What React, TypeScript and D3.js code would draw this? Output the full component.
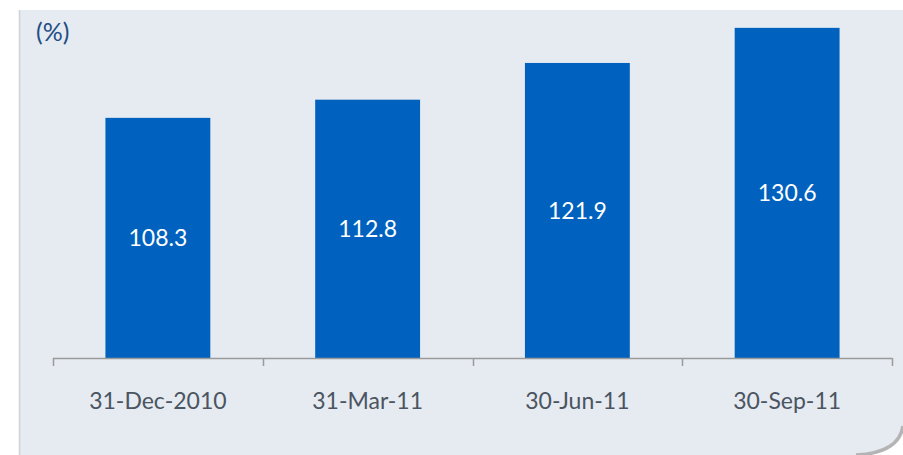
import React, { useEffect, useRef } from 'react';
import * as d3 from 'd3';

const categories = ['31-Dec-2010', '31-Mar-11', '30-Jun-11', '30-Sep-11'];
const values = [108.3, 112.8, 121.9, 130.6];
const unitLabel = '(%)';

export default function App() {
  const svgRef = useRef<SVGSVGElement>(null);

  useEffect(() => {
    if (!svgRef.current) return;
    const height = 455;
    const svg = d3.select(svgRef.current);
    svg.selectAll('*').remove();

    const font = 'Lato, "Open Sans", sans-serif';

    // panel with curled bottom-right corner
    svg.append('path')
      .attr('d', `M19,10 H903 V426 Q899,453 856,455 H19 Z`)
      .attr('fill', '#e6eaf1');
    svg.append('line')
      .attr('x1', 19.5).attr('x2', 19.5).attr('y1', 10).attr('y2', height)
      .attr('stroke', '#cfd2d6').attr('stroke-width', 1.5);
    svg.append('path')
      .attr('d', `M903,426 Q899,453 856,455`)
      .attr('fill', 'none')
      .attr('stroke', '#b4b4b4')
      .attr('stroke-width', 3.5);

    const x = d3.scaleBand<string>()
      .domain(categories)
      .range([53, 892])
      .paddingInner(0.5)
      .paddingOuter(0.25);

    const y = d3.scaleLinear()
      .domain([48.8, 140])
      .range([358, 358 - 91.2 * 4.036]);

    const g = svg.append('g');

    g.selectAll('.bar')
      .data(values)
      .enter().append('rect')
      .attr('class', 'bar')
      .attr('x', (_, i) => x(categories[i])!)
      .attr('width', x.bandwidth())
      .attr('y', d => y(d))
      .attr('height', d => y(48.8) - y(d))
      .attr('fill', '#0062be');

    g.selectAll('.val')
      .data(values)
      .enter().append('text')
      .attr('x', (_, i) => x(categories[i])! + x.bandwidth() / 2)
      .attr('y', d => (y(d) + y(48.8)) / 2)
      .attr('dy', '0.37em')
      .attr('text-anchor', 'middle')
      .style('font-family', font)
      .style('font-size', '23px')
      .style('fill', '#ffffff')
      .text(d => d.toFixed(1));

    // axis
    const step = x.step();
    const tickXs = d3.range(categories.length + 1).map(i => 53 + i * step);
    g.append('line')
      .attr('x1', 53).attr('x2', 892).attr('y1', 358.5).attr('y2', 358.5)
      .attr('stroke', '#9a9a9a').attr('stroke-width', 1.5);
    g.selectAll('.tick')
      .data(tickXs)
      .enter().append('line')
      .attr('x1', d => Math.round(d) + 0.5).attr('x2', d => Math.round(d) + 0.5)
      .attr('y1', 358).attr('y2', 366)
      .attr('stroke', '#9a9a9a').attr('stroke-width', 1.5);

    g.selectAll('.cat')
      .data(categories)
      .enter().append('text')
      .attr('x', d => x(d)! + x.bandwidth() / 2)
      .attr('y', 409)
      .attr('text-anchor', 'middle')
      .style('font-family', font)
      .style('font-size', '23px')
      .style('fill', '#4a5561')
      .text(d => d);

    svg.append('text')
      .attr('x', 36)
      .attr('y', 41)
      .style('font-family', font)
      .style('font-size', '25px')
      .style('fill', '#1f4e86')
      .text(unitLabel);
  }, []);

  return (
    <svg
      ref={svgRef}
      width={903}
      height={455}
      style={{ position: 'absolute', left: 0, top: 0, background: '#ffffff' }}
    />
  );
}
